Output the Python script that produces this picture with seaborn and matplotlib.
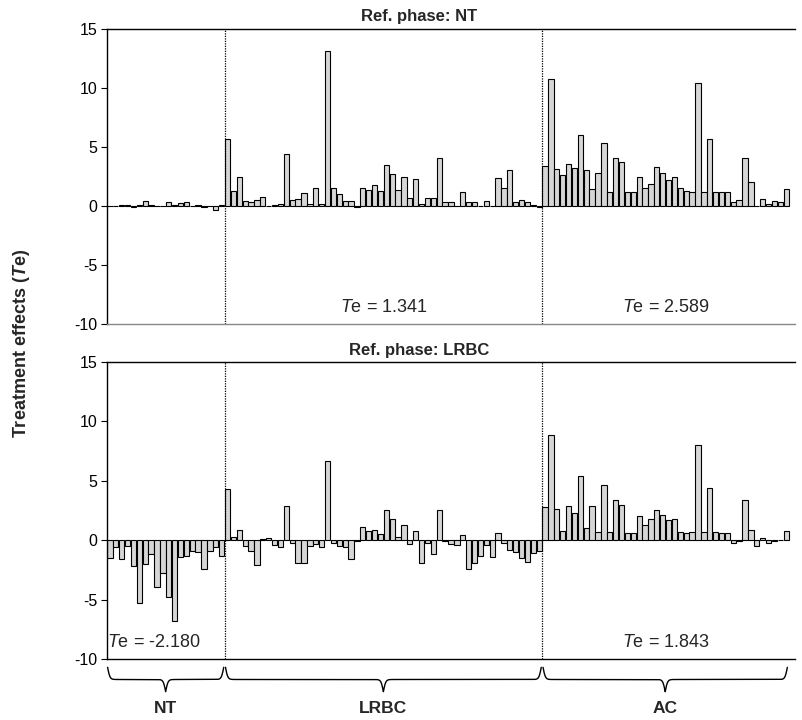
import numpy as np
import pandas as pd
import seaborn as sns
import matplotlib.pyplot as plt

groups = ["NT", "LRBC", "AC"]

# Ref. phase: NT
nt_ref_nt = [0.0, 0.0, 0.05, 0.1, -0.05, 0.1, 0.45, 0.05, 0.0, 0.0,
             0.3, 0.05, 0.25, 0.35, 0.0, 0.1, -0.05, 0.0, -0.3, 0.1]
lrbc_ref_nt = [5.7, 1.25, 2.45, 0.4, 0.3, 0.5, 0.8, 0.0, 0.1, 0.2,
               4.4, 0.5, 0.6, 1.1, 0.2, 1.5, 0.2, 13.1, 1.55, 1.0,
               0.4, 0.4, -0.1, 1.55, 1.35, 1.75, 1.25, 3.5, 2.7, 1.35,
               2.45, 0.65, 2.25, 0.2, 0.65, 0.65, 4.05, 0.3, 0.3, 0.0,
               1.2, 0.3, 0.3, 0.0, 0.45, 0.0, 2.4, 1.5, 3.05, 0.35,
               0.5, 0.3, 0.1, -0.1]
ac_ref_nt = [3.4, 10.8, 3.1, 2.6, 3.6, 3.2, 6.0, 3.05, 1.4, 2.8,
             5.3, 1.2, 4.1, 3.7, 1.2, 1.2, 2.5, 1.5, 1.9, 3.3,
             2.8, 2.2, 2.45, 1.5, 1.3, 1.2, 10.4, 1.2, 5.7, 1.2,
             1.2, 1.2, 0.3, 0.5, 4.1, 2.0, 0.0, 0.6, 0.2, 0.4,
             0.3, 1.4]

# Ref. phase: LRBC
nt_ref_lrbc = [-1.5, -0.6, -1.6, -0.5, -2.2, -5.3, -2.0, -1.2, -3.9, -2.8,
               -4.8, -6.8, -1.4, -1.3, -0.9, -1.0, -2.4, -0.9, -0.6, -1.3]
lrbc_ref_lrbc = [4.3, 0.3, 0.85, -0.5, -0.9, -2.1, 0.1, 0.2, -0.4, -0.6,
                 2.9, -0.2, -1.9, -1.9, -0.5, -0.3, -0.6, 6.7, -0.2, -0.5,
                 -0.6, -1.6, -0.1, 1.1, 0.8, 0.9, 0.5, 2.55, 1.8, 0.3,
                 1.3, -0.3, 0.8, -1.9, -0.2, -1.2, 2.5, -0.1, -0.3, -0.4,
                 0.4, -2.4, -1.9, -1.3, -0.4, -1.4, 0.6, -0.2, -0.8, -1.0,
                 -1.5, -1.8, -1.1, -0.9]
ac_ref_lrbc = [2.8, 8.85, 2.6, 0.8, 2.9, 2.3, 5.4, 1.0, 2.9, 0.7,
               4.65, 0.7, 3.4, 3.0, 0.6, 0.6, 2.0, 1.3, 1.8, 2.5,
               2.1, 1.7, 1.8, 0.7, 0.6, 0.7, 8.0, 0.7, 4.4, 0.7,
               0.6, 0.6, -0.2, -0.1, 3.4, 0.9, -0.5, 0.2, -0.2, -0.1,
               0.0, 0.8]

te_ref_nt = {"LRBC": "1.341", "AC": "2.589"}
te_ref_lrbc = {"NT": "-2.180", "AC": "1.843"}

panels = [
    ("Ref. phase: NT", [nt_ref_nt, lrbc_ref_nt, ac_ref_nt], te_ref_nt),
    ("Ref. phase: LRBC", [nt_ref_lrbc, lrbc_ref_lrbc, ac_ref_lrbc], te_ref_lrbc),
]

sns.set_style("white")
plt.rcParams["font.family"] = ["Liberation Sans", "DejaVu Sans"]
plt.rcParams["axes.unicode_minus"] = False
plt.rcParams["mathtext.fontset"] = "custom"
plt.rcParams["mathtext.it"] = "Liberation Sans:italic"
plt.rcParams["mathtext.bf"] = "Liberation Sans:italic:bold"
plt.rcParams["mathtext.rm"] = "Liberation Sans"

fig = plt.figure(figsize=(8.03, 7.2), dpi=100)
W, H = 803, 720
ax_left, ax_right = 107, 795
boxes = [(29, 324), (362, 659)]

n_groups = [len(g) for g in panels[0][1]]
bounds = np.cumsum([0] + n_groups) - 0.5
xmax = bounds[-1] + 1

axes = []
for (title, series, te), (top, bot) in zip(panels, boxes):
    ax = fig.add_axes([ax_left / W, 1 - bot / H, (ax_right - ax_left) / W, (bot - top) / H])
    vals = np.concatenate(series)
    df = pd.DataFrame({"pos": np.arange(len(vals)), "value": vals})
    sns.barplot(data=df, x="pos", y="value", color="#d6d6d6", saturation=1,
                edgecolor="black", linewidth=0.8, width=0.9, ax=ax)
    ax.set_xlim(-0.5, xmax)
    ax.set_ylim(-10, 15)
    ax.set_yticks([15, 10, 5, 0, -5, -10])
    ax.set_xticks([])
    ax.set_xlabel("")
    ax.set_ylabel("")
    ax.tick_params(axis="y", direction="out", length=4, width=0.8, left=True,
                   labelsize=11.5, colors="black", pad=3)
    for b in bounds[1:-1]:
        ax.axvline(b, color="black", linestyle=(0, (1, 1)), linewidth=0.9)
    ax.spines["right"].set_visible(False)
    for s in ["left", "top", "bottom"]:
        ax.spines[s].set_color("black")
        ax.spines[s].set_linewidth(1.0)
    for i, g in enumerate(groups):
        if g in te:
            cx = (bounds[i] + bounds[i + 1]) / 2
            if g == "NT":
                cx -= 2
            ax.text(cx, -8.6, r"$\mathit{T}$e = " + te[g], ha="center", va="center",
                    fontsize=13)
    fig.text(419 / W, 1 - (top - 12) / H, title, ha="center", va="center",
             fontsize=12, fontweight="bold")
    axes.append(ax)

axes[0].spines["bottom"].set_color("#888888")

fig.text(22 / W, 1 - 343 / H, r"Treatment effects ($\mathbf{T}$e)", rotation=90,
         ha="center", va="center", fontsize=13, fontweight="bold")

# braces below the bottom panel
ax = axes[1]
trans = ax.get_xaxis_transform()
y_end, y_tip = -0.028, -0.11
pads = [(0.1, 0.15), (0.15, 0.15), (0.15, 0.3)]
for i, g in enumerate(groups):
    x0 = bounds[i] + pads[i][0]
    x1 = bounds[i + 1] - pads[i][1]
    half = (x1 - x0) / 2
    t = np.linspace(0, half, 300)
    beta = 5.0
    lev = 1 / (1 + np.exp(-beta * t)) + 1 / (1 + np.exp(-beta * (t - half)))
    lev = np.concatenate([lev, lev[::-1]])
    xs = np.concatenate([x0 + t, x1 - t[::-1]])
    ys = y_end - (lev - 0.5) * (y_end - y_tip)
    ax.plot(xs, ys, color="black", linewidth=1.0, transform=trans, clip_on=False)
    ax.text((x0 + x1) / 2, -0.165, g, transform=trans, ha="center", va="center",
            fontsize=12.5, fontweight="bold")

fig.savefig("out.png", dpi=100)
